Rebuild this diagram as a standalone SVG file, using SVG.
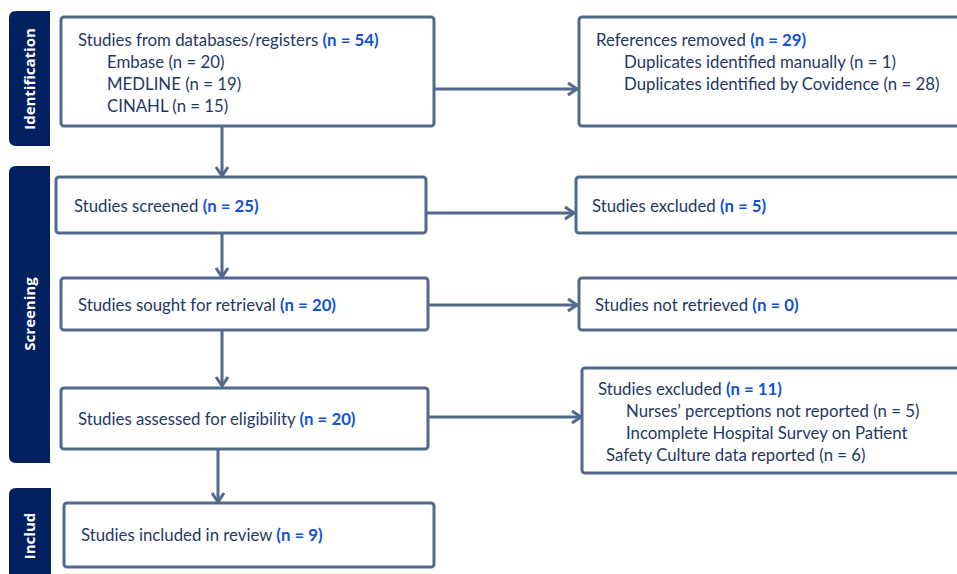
<svg xmlns="http://www.w3.org/2000/svg" width="957" height="574" viewBox="0 0 957 574">
<style>
.box{fill:#fff;stroke:#50698C;stroke-width:3}
.bar{fill:#002060}
.side{font-family:"Open Sans","Noto Sans",sans-serif;font-weight:bold;font-size:15px;fill:#fff;text-anchor:middle}
.t{font-family:Lato,"Liberation Sans",sans-serif;font-size:16.8px;fill:#1F3864}
.b{font-weight:bold;fill:#1152D4}
.c{fill:none;stroke:#50698C;stroke-width:3}
</style>
<defs>
<marker id="ah" markerUnits="userSpaceOnUse" markerWidth="16" markerHeight="16" refX="12" refY="8" orient="auto">
<path d="M3,2 L12,8 L3,14" fill="none" stroke="#50698C" stroke-width="3"/>
</marker>
</defs>
<rect width="957" height="574" fill="#fff"/>
<g id="phase-identification">
<path class="bar" d="M16,11 H50 V146 H16 Q9,146 9,139 V18 Q9,11 16,11 Z"/>
<text class="side" transform="translate(35,79) rotate(-90)">Identification</text>
</g>
<g id="phase-screening">
<path class="bar" d="M16,166 H50 V463 H16 Q9,463 9,456 V173 Q9,166 16,166 Z"/>
<text class="side" transform="translate(35,314) rotate(-90)">Screening</text>
</g>
<g id="phase-included">
<path class="bar" d="M16,488 H51 V580 H9 V495 Q9,488 16,488 Z"/>
<text class="side" transform="translate(35,536) rotate(-90)">Includ</text>
</g>
<g id="connectors">
<line class="c" x1="434" y1="89" x2="577" y2="89" marker-end="url(#ah)"/>
<line class="c" x1="222" y1="126" x2="222" y2="176" marker-end="url(#ah)"/>
<line class="c" x1="426" y1="213" x2="574" y2="213" marker-end="url(#ah)"/>
<line class="c" x1="222" y1="233" x2="222" y2="277" marker-end="url(#ah)"/>
<line class="c" x1="428" y1="305" x2="577" y2="305" marker-end="url(#ah)"/>
<line class="c" x1="222" y1="330" x2="222" y2="386" marker-end="url(#ah)"/>
<line class="c" x1="428" y1="417" x2="581" y2="417" marker-end="url(#ah)"/>
<line class="c" x1="218" y1="449" x2="218" y2="502" marker-end="url(#ah)"/>
</g>
<g id="n-databases">
<rect class="box" x="61" y="17" width="373" height="109" rx="3"/>
<text class="t" x="78" y="46">Studies from databases/registers <tspan class="b">(n = 54)</tspan></text>
<text class="t" x="107" y="68">Embase (n = 20)</text>
<text class="t" x="107" y="90">MEDLINE (n = 19)</text>
<text class="t" x="107" y="112">CINAHL (n = 15)</text>
</g>
<g id="n-removed">
<rect class="box" x="579" y="17" width="390" height="109" rx="3"/>
<text class="t" x="596" y="46">References removed <tspan class="b">(n = 29)</tspan></text>
<text class="t" x="624" y="68">Duplicates identified manually (n = 1)</text>
<text class="t" x="624" y="90">Duplicates identified by Covidence (n = 28)</text>
</g>
<g id="n-screened">
<rect class="box" x="56" y="177" width="370" height="56" rx="3"/>
<text class="t" x="74" y="212">Studies screened <tspan class="b">(n = 25)</tspan></text>
</g>
<g id="n-excluded1">
<rect class="box" x="576" y="177" width="390" height="56" rx="3"/>
<text class="t" x="592" y="212">Studies excluded <tspan class="b">(n = 5)</tspan></text>
</g>
<g id="n-sought">
<rect class="box" x="61" y="278" width="367" height="52" rx="3"/>
<text class="t" x="78" y="311">Studies sought for retrieval <tspan class="b">(n = 20)</tspan></text>
</g>
<g id="n-notretrieved">
<rect class="box" x="579" y="278" width="390" height="52" rx="3"/>
<text class="t" x="595" y="311">Studies not retrieved <tspan class="b">(n = 0)</tspan></text>
</g>
<g id="n-assessed">
<rect class="box" x="61" y="388" width="367" height="61" rx="3"/>
<text class="t" x="78" y="425">Studies assessed for eligibility <tspan class="b">(n = 20)</tspan></text>
</g>
<g id="n-excluded2">
<rect class="box" x="582" y="368" width="390" height="105" rx="3"/>
<text class="t" x="598" y="395">Studies excluded <tspan class="b">(n = 11)</tspan></text>
<text class="t" x="626" y="417">Nurses’ perceptions not reported (n = 5)</text>
<text class="t" x="626" y="439">Incomplete Hospital Survey on Patient</text>
<text class="t" x="606" y="461">Safety Culture data reported (n = 6)</text>
</g>
<g id="n-included">
<rect class="box" x="64" y="503" width="370" height="64" rx="3"/>
<text class="t" x="81" y="541">Studies included in review <tspan class="b">(n = 9)</tspan></text>
</g>
</svg>
